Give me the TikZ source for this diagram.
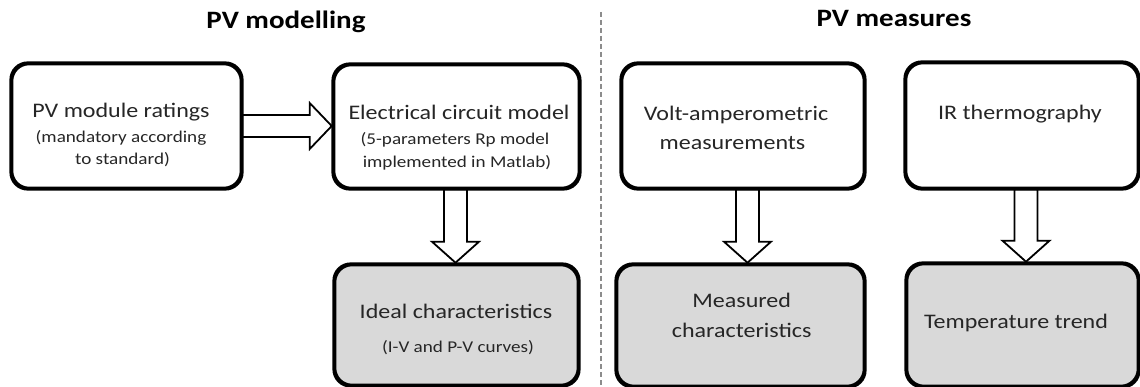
\documentclass[tikz,border=0pt]{standalone}
\usepackage{fontspec}
\setmainfont{Carlito}[FakeStretch=1.16]
\usetikzlibrary{calc}
\definecolor{boxgray}{HTML}{D9D9D9}
\definecolor{txtc}{HTML}{262626}
\definecolor{divc}{HTML}{8C8C8C}
\newcommand\dnblock[3]{% from node, to node, x shift
  \draw[barrow] let \p1=($(#1.south)+(#3,0)$), \p2=(#2.north) in
    (\x1-11.5pt,\y1) -- (\x1-11.5pt,\y2+22pt) -- (\x1-23.5pt,\y2+22pt) --
    (\x1,\y2+1pt) -- (\x1+23.5pt,\y2+22pt) -- (\x1+11.5pt,\y2+22pt) --
    (\x1+11.5pt,\y1) -- cycle;}
\begin{document}
\begin{tikzpicture}[x=1pt,y=-1pt,
  box/.style={draw=black, line width=2.6pt, rounded corners=17pt, fill=white, inner sep=0pt},
  res/.style={box, fill=boxgray},
  txt/.style={anchor=base, inner sep=0pt, text=txtc, font=\fontsize{20.7}{24}\selectfont},
  sub/.style={txt, font=\fontsize{16.5}{19}\selectfont},
  ttl/.style={anchor=base, inner sep=0pt, text=black, font=\fontsize{25}{30}\selectfont\bfseries},
  barrow/.style={draw=black, line width=1.8pt, fill=white, line join=miter},
  divider/.style={draw=divc, line width=1.3pt, dash pattern=on 5pt off 3pt}]
\useasboundingbox (0,0) rectangle (1140,387);

% titles
\node[ttl] (t1) at (286,29) {PV modelling};
\node[ttl] (t2) at (894,27) {PV measures};

% divider
\coordinate (dtop) at (601,12);
\coordinate (dbot) at (601,387);
\draw[divider] (dtop) -- (dbot);

% box geometry (nodes, placed first so arrows can reference them)
\path
  node[box, minimum width=229pt, minimum height=124pt] (b1) at (126.5,126) {}
  node[box, minimum width=245pt, minimum height=123pt] (b2) at (456.5,126.5) {}
  node[box, minimum width=242pt, minimum height=124pt] (b4) at (743,126) {}
  node[box, minimum width=232pt, minimum height=125pt] (b5) at (1022,125.5) {}
  node[res, minimum width=243pt, minimum height=120pt] (b3) at (456.5,325) {}
  node[res, minimum width=247pt, minimum height=121pt] (b6) at (740.5,325.5) {}
  node[res, minimum width=231pt, minimum height=122pt] (b7) at (1022.5,325) {};

% block arrows
\draw[barrow] let \p1=(b1.east), \p2=(b2.west) in
  (\x1,\y1+11pt) -- (\x2-23pt,\y1+11pt) -- (\x2-23pt,\y1+23pt) --
  (\x2-1pt,\y1) -- (\x2-23pt,\y1-23pt) -- (\x2-23pt,\y1-11pt) --
  (\x1,\y1-11pt) -- cycle;
\dnblock{b2}{b3}{-1}
\dnblock{b4}{b6}{4.5}
\dnblock{b5}{b7}{4}

% redraw box borders on top of arrow ends
\foreach \n in {b1,b2,b4,b5,b3,b6,b7}
  \draw[line width=2.6pt, rounded corners=17pt]
    (\n.north west) rectangle (\n.south east);

% texts
\node[txt] (l1a) at (121,118) {PV module ratings};
\node[sub] (l1b) at (121,143) {(mandatory according};
\node[sub] (l1c) at (122.5,165) {to standard)};

\node[txt] (l2a) at (459,120) {Electrical circuit model};
\node[sub] (l2b) at (455,145) {(5-parameters Rp model};
\node[sub] (l2c) at (457,168) {implemented in Matlab)};

\node[txt] (l4a) at (736,121) {Volt-amperometric};
\node[txt] (l4b) at (732.5,150) {measurements};

\node[txt] (l5a) at (1020,120) {IR thermography};

\node[txt] (l3a) at (456,318) {Ideal characteristics};
\node[sub] (l3b) at (458,352) {(I-V and P-V curves)};

\node[txt] (l6a) at (741.7,308) {Measured};
\node[txt] (l6b) at (741.7,337) {characteristics};

\node[txt] (l7a) at (1016,328) {Temperature trend};
\end{tikzpicture}
\end{document}
